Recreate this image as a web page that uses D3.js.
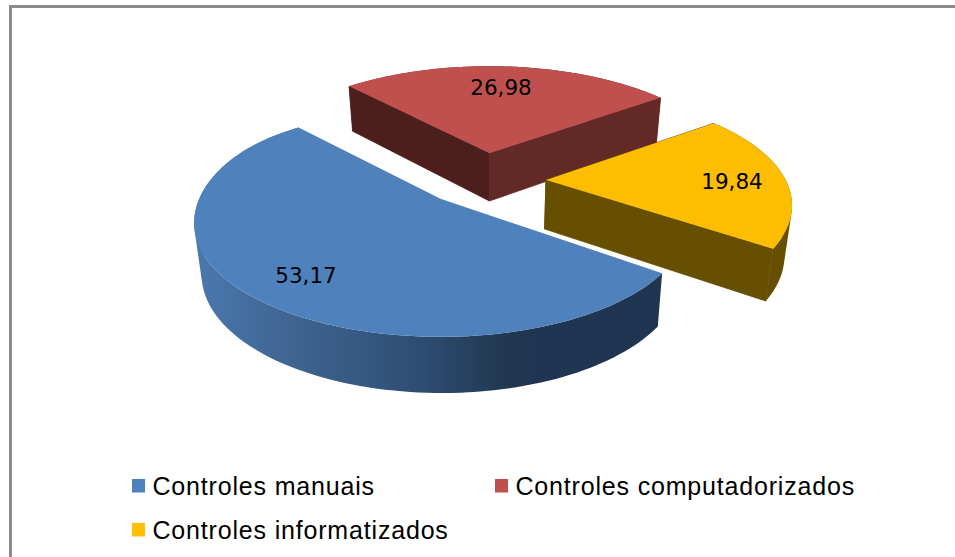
<!DOCTYPE html>
<html><head><meta charset="utf-8">
<script src="https://cdn.jsdelivr.net/npm/d3@7/dist/d3.min.js"></script>
<style>html,body{margin:0;padding:0;background:#fff;overflow:hidden}svg{display:block}</style>
</head><body><svg id="c" width="955" height="557"></svg>
<script>
const categories = ["Controles manuais", "Controles computadorizados", "Controles informatizados"];
const values = [53.17, 26.98, 19.84];
const valueLabels = ["53,17", "26,98", "19,84"];
const topColors = ["#4f81bd", "#c0504d", "#fdbd00"];
const legendColors = ["#4f81bd", "#c0504d", "#ffc000"];
const wallColors = ["url(#blueWall)", "#632926", "#664f00"];
const leftWallColors = ["#1f3552", "#4d1f1c", "#664f00"];

const svg = d3.select("#c");
const cx = 484.5, cy = 180, Rx = 239.6, Ry = 106.7, persp = 0.227;
const exX = 61.5, exY = 27;
const rad = Math.PI / 180;
// small per-slice fit of the drawn picture's perspective
const sliceTurn = [1.5 * rad, 0, -1.2 * rad];
const sliceShift = [[-3.5, -1.5], [-1, 0], [0, 0]];
const sliceBump = [0.045, 0, 0];

const defs = svg.append("defs");
const g = defs.append("linearGradient").attr("id", "blueWall")
  .attr("gradientUnits", "userSpaceOnUse").attr("x1", 196).attr("x2", 540).attr("y1", 0).attr("y2", 0);
[[0, "#4a78ae"], [0.3, "#3e638f"], [0.62, "#304f76"], [0.9, "#213850"], [1, "#1f3552"]]
  .forEach(s => g.append("stop").attr("offset", s[0]).attr("stop-color", s[1]));

svg.append("path").attr("d", "M10.5 557V6.5H955").attr("fill", "none").attr("stroke", "#8a8a8a").attr("stroke-width", 3);

const pie = d3.pie().sort(null).startAngle(125.5 * rad).endAngle((125.5 + 360) * rad);
const arcs = pie(values);

// disc → screen with perspective (a = d3 pie angle, clockwise from 12 o'clock)
function rim(a, i) {
  const bump = 1 + sliceBump[i] * Math.pow(Math.max(0, Math.cos(a - 313 * rad)), 6);
  const u = Math.sin(a), v = -Math.cos(a), s = bump / (1 - persp * v);
  return [Rx * u * s, Ry * v * s];
}
function apex(d, i) {
  const m = (d.startAngle + d.endAngle) / 2;
  return [cx + exX * Math.sin(m) + sliceShift[i][0], cy - exY * Math.cos(m) + sliceShift[i][1]];
}
function lower(p) {
  return [p[0] - 0.025 * (p[0] - 490), p[1] + 41 + 0.045 * p[1]];
}
const line = d3.line();
const order = [1, 2, 0];

order.forEach(i => {
  const d = arcs[i], A = apex(d, i);
  const a0 = d.startAngle + sliceTurn[i], a1 = d.endAngle + sliceTurn[i];
  const angles = d3.range(0, 121).map(k => a0 + (a1 - a0) * k / 120);
  const top = angles.map(a => { const r = rim(a, i); return [A[0] + r[0], A[1] + r[1]]; });
  const bot = top.map(lower);
  const group = svg.append("g");
  // outer curved wall: quads with one winding in a single path, so the silhouette fills without seams
  const wall = d3.range(0, 120).map(k => {
    const q = [top[k], top[k + 1], bot[k + 1], bot[k]];
    return line(d3.polygonArea(q) < 0 ? q.slice().reverse() : q) + "Z";
  }).join("");
  group.append("path").attr("d", wall).attr("fill", wallColors[i]);
  // radial walls
  if (i !== 0) {
    const A2 = lower(A);
    [[top[0], leftWallColors[i]], [top[120], wallColors[i]]].forEach(w => {
      const e = w[0];
      group.append("path").attr("d", line([A, e, lower(e), A2]) + "Z")
        .attr("fill", w[1]).attr("stroke", w[1]).attr("stroke-width", 0.8);
    });
  }
  group.append("path").attr("d", line([A].concat(top)) + "Z").attr("fill", topColors[i]);
});

const labelPos = [[306, 275], [501, 87], [732, 181]];
valueLabels.forEach((t, i) => {
  svg.append("text").attr("x", labelPos[i][0]).attr("y", labelPos[i][1]).attr("dy", "0.36em")
    .attr("text-anchor", "middle").attr("font-family", "DejaVu Sans").attr("font-size", 21.5).attr("fill", "#000").text(t);
});

const legendPos = [[132, 479], [495, 479], [132, 523]];
categories.forEach((t, i) => {
  svg.append("rect").attr("x", legendPos[i][0]).attr("y", legendPos[i][1]).attr("width", 13).attr("height", 13.5).attr("fill", legendColors[i]);
  svg.append("text").attr("x", legendPos[i][0] + 20.5).attr("y", legendPos[i][1] + 16)
    .attr("font-family", "Liberation Sans").attr("font-size", 25).attr("letter-spacing", 0.82).attr("fill", "#000").text(t);
});
</script></body></html>
